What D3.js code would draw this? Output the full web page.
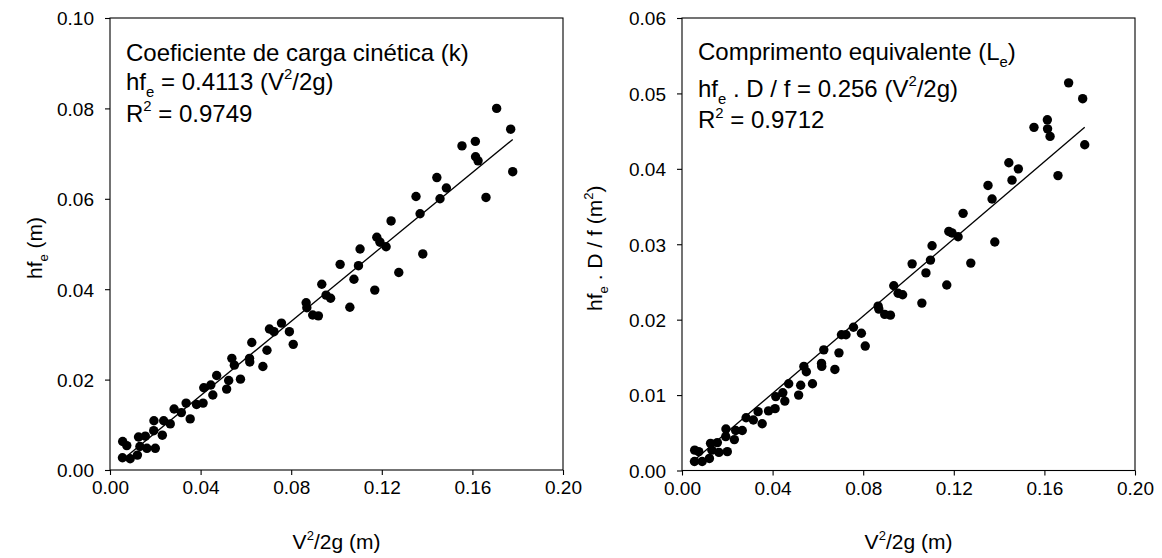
<!DOCTYPE html>
<html>
<head>
<meta charset="utf-8">
<script src="https://cdn.jsdelivr.net/npm/d3@7"></script>
<style>
  body { margin: 0; background: #fff; }
  svg { display: block; font-family: "Liberation Sans", Arial, sans-serif; }
</style>
</head>
<body>
<svg id="chart" width="1162" height="558"></svg>
<script>
// V^2/2g (m), shared by both panels
const vx = [0.0056, 0.0074, 0.0055, 0.0089, 0.0121, 0.0126, 0.0156, 0.0132, 0.0163, 0.0200,
    0.0193, 0.0194, 0.0231, 0.0237, 0.0266, 0.0283, 0.0315, 0.0336, 0.0354, 0.0382,
    0.0411, 0.0414, 0.0445, 0.0454, 0.0471, 0.0515, 0.0524, 0.0538, 0.0549, 0.0576,
    0.0616, 0.0617, 0.0626, 0.0675, 0.0693, 0.0704, 0.0724, 0.0757, 0.0792, 0.0809,
    0.0866, 0.0869, 0.0895, 0.0920, 0.0935, 0.0954, 0.0974, 0.1016, 0.1059, 0.1077,
    0.1097, 0.1104, 0.1169, 0.1178, 0.1192, 0.1219, 0.1275, 0.1241, 0.1351, 0.1369,
    0.1381, 0.1443, 0.1485, 0.1457, 0.1554, 0.1613, 0.1614, 0.1625, 0.1660, 0.1707,
    0.1769, 0.1778];

// hf_e (m)
const hfe = [0.0063, 0.0054, 0.0027, 0.0025, 0.0033, 0.0073, 0.0075, 0.0052, 0.0048, 0.0048,
    0.0087, 0.0109, 0.0077, 0.0109, 0.0102, 0.0135, 0.0127, 0.0148, 0.0113, 0.0145,
    0.0148, 0.0182, 0.0188, 0.0166, 0.0209, 0.0179, 0.0198, 0.0247, 0.0232, 0.0201,
    0.0247, 0.0239, 0.0282, 0.0229, 0.0265, 0.0312, 0.0306, 0.0325, 0.0306, 0.0278,
    0.0370, 0.0359, 0.0343, 0.0341, 0.0411, 0.0387, 0.0380, 0.0455, 0.0360, 0.0422,
    0.0452, 0.0489, 0.0398, 0.0515, 0.0504, 0.0494, 0.0437, 0.0551, 0.0605, 0.0567,
    0.0478, 0.0647, 0.0624, 0.0600, 0.0717, 0.0727, 0.0693, 0.0684, 0.0603, 0.0800,
    0.0754, 0.0660];

// hf_e . D / f (m^2)
const hfeDf = [0.0027, 0.0025, 0.0012, 0.0012, 0.0016, 0.0036, 0.0037, 0.0027, 0.0024, 0.0025,
    0.0045, 0.0055, 0.0041, 0.0053, 0.0053, 0.0070, 0.0067, 0.0078, 0.0062, 0.0079,
    0.0082, 0.0098, 0.0103, 0.0092, 0.0115, 0.0100, 0.0113, 0.0138, 0.0131, 0.0115,
    0.0142, 0.0138, 0.0160, 0.0134, 0.0156, 0.0180, 0.0180, 0.0190, 0.0182, 0.0165,
    0.0218, 0.0214, 0.0207, 0.0206, 0.0245, 0.0235, 0.0233, 0.0274, 0.0222, 0.0262,
    0.0279, 0.0298, 0.0246, 0.0317, 0.0315, 0.0310, 0.0275, 0.0341, 0.0378, 0.0360,
    0.0303, 0.0408, 0.0400, 0.0385, 0.0455, 0.0465, 0.0453, 0.0443, 0.0391, 0.0514,
    0.0493, 0.0432];

const xTicks = [0, 0.04, 0.08, 0.12, 0.16, 0.20];
const yTicksLeft = [0, 0.02, 0.04, 0.06, 0.08, 0.10];
const yTicksRight = [0, 0.01, 0.02, 0.03, 0.04, 0.05, 0.06];
const slopes = [0.4113, 0.256];

const svg = d3.select("#chart");
const fmt = d3.format(".2f");

function panel(p) {
    const x = d3.scaleLinear().domain([0, 0.2]).range([p.left, p.right]);
    const y = d3.scaleLinear().domain([0, p.yMax]).range([p.bottom, p.top]);

    const g = svg.append("g");

    g.append("rect")
        .attr("x", p.left)
        .attr("y", p.top)
        .attr("width", p.right - p.left)
        .attr("height", p.bottom - p.top)
        .attr("fill", "none")
        .attr("stroke", "#000")
        .attr("stroke-width", 1.1);

    const xAxis = g.append("g")
        .attr("transform", `translate(0,${p.bottom})`)
        .call(d3.axisBottom(x).tickValues(xTicks).tickFormat(fmt).tickSize(5).tickSizeOuter(0).tickPadding(6));
    const yAxis = g.append("g")
        .attr("transform", `translate(${p.left},0)`)
        .call(d3.axisLeft(y).tickValues(p.yTicks).tickFormat(fmt).tickSize(5).tickSizeOuter(0).tickPadding(11));

    for (const a of [xAxis, yAxis]) {
        a.select(".domain").remove();
        a.selectAll("line").attr("stroke", "#000").attr("stroke-width", 1.1);
        a.selectAll("text")
            .attr("fill", "#000")
            .style("font-size", "19px")
            .style("font-family", "'Liberation Sans', Arial, sans-serif");
    }
    yAxis.selectAll("text").attr("dy", "0.36em");

    // regression line through the origin
    const x0 = d3.min(p.xs), x1 = d3.max(p.xs);
    g.append("line")
        .attr("x1", x(x0)).attr("y1", y(p.slope * x0))
        .attr("x2", x(x1)).attr("y2", y(p.slope * x1))
        .attr("stroke", "#000")
        .attr("stroke-width", 1.3);

    g.selectAll("circle.pt")
        .data(p.xs.map((v, i) => [v, p.ys[i]]))
        .enter()
        .append("circle")
            .attr("class", "pt")
            .attr("cx", d => x(d[0]))
            .attr("cy", d => y(d[1]))
            .attr("r", 4.7)
            .attr("fill", "#000");

    // annotation lines, each a list of [text, kind]
    p.notes.forEach((parts, i) => {
        const t = g.append("text")
            .attr("x", p.left + 16)
            .attr("y", p.noteY[i])
            .attr("fill", "#000");
        addParts(t, parts, 24);
    });

    const xt = g.append("text")
        .attr("x", (p.left + p.right) / 2)
        .attr("y", 549)
        .attr("text-anchor", "middle");
    addParts(xt, [["V"], ["2", "sup"], ["/2g (m)"]], 21);

    const yt = g.append("text")
        .attr("transform", `translate(${p.yTitleX},${(p.top + p.bottom) / 2 + 4}) rotate(-90)`)
        .attr("text-anchor", "middle");
    addParts(yt, p.yTitle, 21);
}

function addParts(t, parts, size) {
    let shift = 0;
    for (const [s, kind] of parts) {
        let want = 0;
        if (kind === "sub") want = 0.3 * size;
        if (kind === "sup") want = -0.42 * size;
        t.append("tspan")
            .attr("dy", want - shift)
            .style("font-size", kind ? (size * 0.62) + "px" : size + "px")
            .text(s);
        shift = want;
    }
}

panel({
    left: 110, right: 563, top: 18, bottom: 470,
    yMax: 0.1, yTicks: yTicksLeft,
    xs: vx, ys: hfe, slope: slopes[0],
    yTitleX: 42,
    yTitle: [["hf"], ["e", "sub"], [" (m)"]],
    noteY: [61, 89.5, 121.5],
    notes: [
        [["Coeficiente de carga cinética (k)"]],
        [["hf"], ["e", "sub"], [" = 0.4113 (V"], ["2", "sup"], ["/2g)"]],
        [["R"], ["2", "sup"], [" = 0.9749"]]
    ]
});

panel({
    left: 682, right: 1135, top: 18, bottom: 470.5,
    yMax: 0.06, yTicks: yTicksRight,
    xs: vx, ys: hfeDf, slope: slopes[1],
    yTitleX: 602,
    yTitle: [["hf"], ["e", "sub"], [" . D / f (m"], ["2", "sup"], [")"]],
    noteY: [60, 96.5, 128],
    notes: [
        [["Comprimento equivalente (L"], ["e", "sub"], [")"]],
        [["hf"], ["e", "sub"], [" . D / f = 0.256 (V"], ["2", "sup"], ["/2g)"]],
        [["R"], ["2", "sup"], [" = 0.9712"]]
    ]
});
</script>
</body>
</html>
